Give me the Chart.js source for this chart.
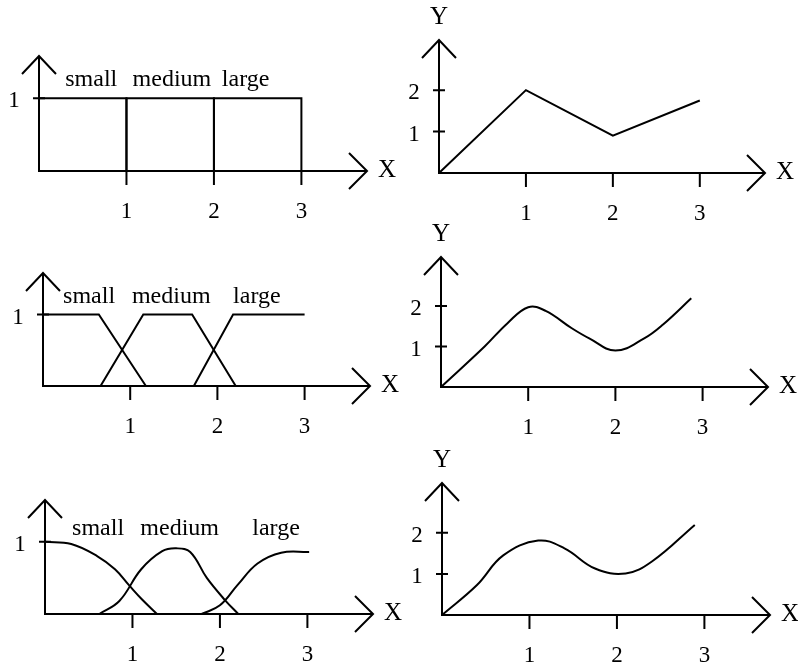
<!DOCTYPE html>
<html>
<head>
<meta charset="utf-8">
<script src="https://cdn.jsdelivr.net/npm/chart.js@4.4.1/dist/chart.umd.min.js"></script>
<style>
  html, body { margin: 0; padding: 0; background: #fff; }
  #wrap { position: relative; width: 798px; height: 669px; overflow: hidden; }
  #wrap canvas { position: absolute; left: 0; top: 0; }
</style>
</head>
<body>
<div id="wrap">
  <canvas id="p1" width="798" height="669"></canvas>
  <canvas id="p2" width="798" height="669"></canvas>
  <canvas id="p3" width="798" height="669"></canvas>
  <canvas id="p4" width="798" height="669"></canvas>
  <canvas id="p5" width="798" height="669"></canvas>
  <canvas id="p6" width="798" height="669"></canvas>
</div>
<script>
// tick values and labels
const xTicks = [1, 2, 3];
const xTickLabels = ["1", "2", "3"];
const memberTicks = [1];
const memberTickLabels = ["1"];
const outTicks = [1, 2];
const outTickLabels = ["1", "2"];
const setNames = ["small", "medium", "large"];

// crisp sets
const crispSmallX = [0, 1, 1];
const crispSmallY = [1, 1, 0];
const crispMediumX = [1, 1, 2, 2];
const crispMediumY = [0, 1, 1, 0];
const crispLargeX = [2, 2, 3, 3];
const crispLargeY = [0, 1, 1, 0];
const crispOutX = [0, 1, 2, 3];
const crispOutY = [0, 2, 0.9, 1.75];

// trapezoid sets
const trapSmallX = [0, 0.64, 1.18];
const trapSmallY = [1, 1, 0];
const trapMediumX = [0.66, 1.15, 1.71, 2.21];
const trapMediumY = [0, 1, 1, 0];
const trapLargeX = [1.73, 2.18, 3.0];
const trapLargeY = [0, 1, 1];
const trapOutX = [0, 0.5, 0.76, 1.0, 1.2, 1.5, 1.7, 2.0, 2.33, 2.55, 2.87];
const trapOutY = [0, 1.0, 1.57, 1.97, 1.88, 1.45, 1.2, 0.9, 1.2, 1.55, 2.19];

// smooth sets
const smoothSmallX = [0, 0.3, 0.6, 0.8, 0.96, 1.11, 1.28];
const smoothSmallY = [1, 0.97, 0.8, 0.62, 0.4, 0.2, 0];
const smoothMediumX = [0.62, 0.85, 1.1, 1.34, 1.5, 1.66, 1.85, 2.06, 2.21];
const smoothMediumY = [0, 0.18, 0.62, 0.87, 0.91, 0.86, 0.5, 0.19, 0];
const smoothLargeX = [1.79, 2.0, 2.2, 2.43, 2.7, 3.02];
const smoothLargeY = [0, 0.12, 0.4, 0.7, 0.85, 0.86];
const smoothOutX = [0, 0.4, 0.7, 1.1, 1.4, 1.75, 2.1, 2.4, 2.89];
const smoothOutY = [0, 0.73, 1.45, 1.81, 1.62, 1.13, 1.01, 1.3, 2.19];

const FONT = "'Liberation Serif', 'DejaVu Serif', serif";

function pts(xs, ys) {
  return xs.map((x, i) => ({ x: x, y: ys[i] }));
}

function line(xs, ys, smooth) {
  return {
    data: pts(xs, ys),
    borderColor: "#000",
    borderWidth: 2,
    pointRadius: 0,
    fill: false,
    clip: false,
    tension: smooth ? 0.4 : 0,
  };
}

// axes with arrow heads, tick marks and labels
const arrowAxes = {
  id: "arrowAxes",
  afterDatasetsDraw(chart, args, opts) {
    const ctx = chart.ctx;
    const { left, right, top, bottom } = chart.chartArea;
    const sx = chart.scales.x;
    const sy = chart.scales.y;
    ctx.save();
    ctx.strokeStyle = "#000";
    ctx.fillStyle = "#000";
    ctx.lineWidth = 2;
    ctx.beginPath();
    ctx.moveTo(left, top);
    ctx.lineTo(left, bottom);
    ctx.lineTo(right, bottom);
    ctx.moveTo(left - 17, top + 18);
    ctx.lineTo(left, top);
    ctx.lineTo(left + 17, top + 18);
    ctx.moveTo(right - 18, bottom - 18);
    ctx.lineTo(right, bottom);
    ctx.lineTo(right - 18, bottom + 18);
    xTicks.forEach((v) => {
      const px = sx.getPixelForValue(v);
      ctx.moveTo(px, bottom);
      ctx.lineTo(px, bottom + 14);
    });
    opts.yTicks.forEach((v) => {
      const py = sy.getPixelForValue(v);
      ctx.moveTo(left - 6, py);
      ctx.lineTo(left + 6, py);
    });
    ctx.stroke();

    ctx.font = "23px " + FONT;
    ctx.textAlign = "center";
    ctx.textBaseline = "middle";
    xTicks.forEach((v, i) => {
      ctx.fillText(xTickLabels[i], sx.getPixelForValue(v), bottom + 41);
    });
    opts.yTicks.forEach((v, i) => {
      ctx.fillText(opts.yLabels[i], left - 25, sy.getPixelForValue(v) + 3);
    });

    ctx.font = "25px " + FONT;
    ctx.fillText("X", right + 20, bottom - 1);
    if (opts.showY) ctx.fillText("Y", left, top - 23);

    if (opts.names) {
      ctx.font = "24px " + FONT;
      ctx.textAlign = "left";
      ctx.textBaseline = "alphabetic";
      opts.names.forEach((n, i) => {
        ctx.fillText(n, sx.getPixelForValue(opts.nameX[i]), sy.getPixelForValue(opts.nameY));
      });
    }
    ctx.restore();
  },
};

function panel(id, box, yMax, datasets, axisOpts) {
  new Chart(document.getElementById(id), {
    type: "line",
    data: { datasets: datasets },
    options: {
      responsive: false,
      animation: false,
      events: [],
      layout: {
        padding: { left: box[0], top: box[1], right: 798 - box[2], bottom: 669 - box[3] },
      },
      scales: {
        x: { type: "linear", display: false, min: 0, max: 3.75 },
        y: { type: "linear", display: false, min: 0, max: yMax },
      },
      plugins: {
        legend: { display: false },
        tooltip: { enabled: false },
        arrowAxes: axisOpts,
      },
    },
    plugins: [arrowAxes],
  });
}

// left column: membership functions, right column: resulting mapping
panel("p1", [39, 56, 367, 171], 1.58,
  [line(crispSmallX, crispSmallY), line(crispMediumX, crispMediumY), line(crispLargeX, crispLargeY)],
  { yTicks: memberTicks, yLabels: memberTickLabels, names: setNames, nameX: [0.3, 1.07, 2.09], nameY: 1.17 });
panel("p2", [439, 40, 765, 173], 3.21,
  [line(crispOutX, crispOutY)],
  { yTicks: outTicks, yLabels: outTickLabels, showY: true });

panel("p3", [43, 273, 370, 386], 1.58,
  [line(trapSmallX, trapSmallY), line(trapMediumX, trapMediumY), line(trapLargeX, trapLargeY)],
  { yTicks: memberTicks, yLabels: memberTickLabels, names: setNames, nameX: [0.23, 1.02, 2.18], nameY: 1.16 });
panel("p4", [441, 257, 768, 387], 3.21,
  [line(trapOutX, trapOutY, true)],
  { yTicks: outTicks, yLabels: outTickLabels, showY: true });

panel("p5", [45, 500, 373, 614], 1.58,
  [line(smoothSmallX, smoothSmallY, true), line(smoothMediumX, smoothMediumY, true), line(smoothLargeX, smoothLargeY, true)],
  { yTicks: memberTicks, yLabels: memberTickLabels, names: setNames, nameX: [0.31, 1.09, 2.37], nameY: 1.1 });
panel("p6", [442, 483, 770, 615], 3.21,
  [line(smoothOutX, smoothOutY, true)],
  { yTicks: outTicks, yLabels: outTickLabels, showY: true });
</script>
</body>
</html>
